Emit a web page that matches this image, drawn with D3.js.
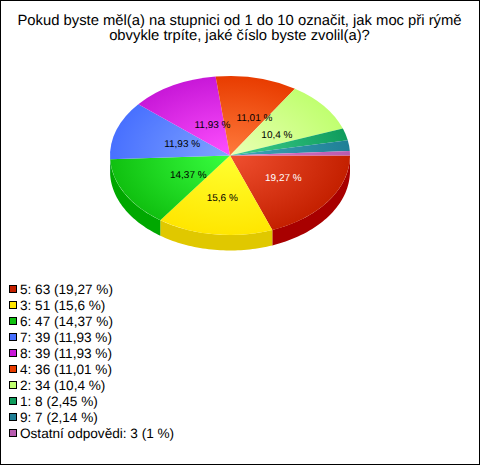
<!DOCTYPE html>
<html><head><meta charset="utf-8">
<script src="https://cdn.jsdelivr.net/npm/d3@7"></script>
<style>html,body{margin:0;padding:0;background:#fff}svg{display:block}text{font-family:"Liberation Sans",Arial,sans-serif;text-rendering:geometricPrecision}</style>
</head><body><svg id="c" width="480" height="465"></svg>
<script>
const titleLines = ["Pokud byste měl(a) na stupnici od 1 do 10 označit, jak moc při rýmě","obvykle trpíte, jaké číslo byste zvolil(a)?"];
const categories = ["5","3","6","7","8","4","2","1","9","Ostatní odpovědi"];
const counts = [63,51,47,39,39,36,34,8,7,3];
const percents = ["19,27","15,6","14,37","11,93","11,93","11,01","10,4","2,45","2,14","1"];
const edgeColors = ["#c42000","#ffe600","#10c010","#4870ff","#c818d8","#e83c00","#c0ff70","#0f9c5c","#1f7f96","#b85cb0"];
const centerColors = ["#f05030","#ffff30","#38ff40","#80a4ff","#ff50ff","#ff7a3c","#eaffb4","#40d090","#40a8b8","#e878c8"];
const sideColors = ["#a80000","#e0c800","#00a800","#3050c0","#9010a0","#b02c00","#90c050","#0a7040","#145f70","#904090"];
const labelColors = ["#fff","#000","#000","#000","#000","#000","#000"];
const labelNudge = [[4,-1],[0,3],[11,0],[9,1],[11,4],[11,1],[0,4]];

const W=480,H=465,cx=230,cy=155.5,rx=120,ry=79.5,depth=15.5;
const svg=d3.select("#c");
svg.append("rect").attr("x",.5).attr("y",.5).attr("width",W-1).attr("height",H-1).attr("fill","#fff").attr("stroke","#000");

svg.selectAll("text.t").data(titleLines).join("text").attr("class","t")
  .attr("x",239.5).attr("y",(d,i)=>25+i*15).attr("text-anchor","middle").attr("font-size",14.8).attr("fill","#000").text(d=>d);

const pie=d3.pie().sort(null).startAngle(Math.PI/2).endAngle(Math.PI/2+2*Math.PI);
const arcs=pie(counts);
const defs=svg.append("defs");
const rScale=d3.scaleLinear().domain([0,1]).range([0,rx]);
const sy=ry/rx;
arcs.forEach((a,i)=>{
  const g=defs.append("radialGradient").attr("id","g"+i).attr("gradientUnits","userSpaceOnUse")
    .attr("cx",0).attr("cy",0).attr("r",rx);
  g.append("stop").attr("offset","0").attr("stop-color",centerColors[i]);
  g.append("stop").attr("offset","1").attr("stop-color",edgeColors[i]);
});
// sides
const pt=t=>[cx+rx*Math.sin(t),cy-ry*Math.cos(t)];
const line=d3.line();
arcs.forEach((a,i)=>{
  const lo=Math.max(a.startAngle,Math.PI/2), hi=Math.min(a.endAngle,Math.PI*1.5);
  if(hi<=lo) return;
  const ts=d3.range(0,41).map(k=>lo+(hi-lo)*k/40);
  const upper=ts.map(pt);
  const lower=ts.slice().reverse().map(t=>{const p=pt(t);return [p[0],p[1]+depth];});
  svg.append("path").attr("d",line(upper.concat(lower))+"Z").attr("fill",sideColors[i]);
});
// top face
const arc=d3.arc().innerRadius(0).outerRadius(rScale(1));
const face=svg.append("g").attr("transform",`translate(${cx},${cy}) scale(1,${sy})`);
face.selectAll("path").data(arcs).join("path").attr("d",arc).attr("fill",(d,i)=>`url(#g${i})`);
// labels
arcs.slice(0,labelNudge.length).forEach((a,i)=>{
  const m=(a.startAngle+a.endAngle)/2;
  svg.append("text").attr("x",cx+rx*.5*Math.sin(m)+labelNudge[i][0]).attr("y",cy-ry*.5*Math.cos(m)+labelNudge[i][1]+3.5)
    .attr("text-anchor","middle").attr("font-size",10).attr("fill",labelColors[i]).text(percents[i]+" %");
});
// legend
const lg=svg.selectAll("g.l").data(categories).join("g").attr("class","l")
  .attr("transform",(d,i)=>`translate(0,${289+i*16})`);
lg.append("rect").attr("x",9.5).attr("y",-3.5).attr("width",7).attr("height",7).attr("stroke","#000").attr("fill",(d,i)=>edgeColors[i]);
lg.append("text").attr("x",20).attr("y",5).attr("font-size",13.6).attr("fill","#000")
  .text((d,i)=>`${d}: ${counts[i]} (${percents[i]} %)`);
</script></body></html>
